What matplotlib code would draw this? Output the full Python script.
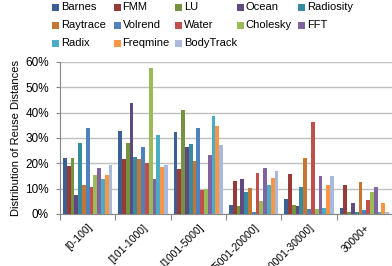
import numpy as np
import matplotlib
matplotlib.use('Agg')
import matplotlib.pyplot as plt
from matplotlib.patches import Rectangle

plt.rcParams['font.family'] = ['Liberation Sans Narrow', 'Liberation Sans', 'DejaVu Sans']

# categories (reuse distance buckets)
buckets = ['[0-100]', '[101-1000]', '[1001-5000]', '[5001-20000]', '[20001-30000]', '30000+']

# benchmark series, percent per bucket
barnes    = [22.2, 32.8, 32.4, 3.6, 5.9, 2.4]
fmm       = [19.0, 21.7, 17.8, 13.0, 15.8, 11.4]
lu        = [22.2, 28.0, 41.0, 3.2, 3.6, 0.8]
ocean     = [7.5, 43.8, 26.4, 13.8, 3.2, 4.3]
radiosity = [28.0, 22.5, 27.6, 8.7, 10.7, 0.8]
raytrace  = [11.4, 21.7, 20.9, 10.3, 22.1, 12.6]
volrend   = [34.0, 26.4, 34.0, 0.8, 2.0, 1.6]
water     = [10.7, 20.1, 9.5, 16.2, 36.3, 5.5]
cholesky  = [15.4, 57.6, 9.9, 5.1, 2.0, 8.7]
fft       = [18.2, 13.8, 23.3, 18.2, 15.0, 10.7]
radix     = [13.8, 31.2, 38.7, 11.4, 2.4, 0.8]
freqmine  = [15.4, 18.6, 34.7, 14.2, 11.4, 4.3]
bodytrack = [19.5, 19.5, 27.2, 17.0, 15.0, 0.8]

names = ['Barnes', 'FMM', 'LU', 'Ocean', 'Radiosity', 'Raytrace', 'Volrend',
         'Water', 'Cholesky', 'FFT', 'Radix', 'Freqmine', 'BodyTrack']
series = [barnes, fmm, lu, ocean, radiosity, raytrace, volrend,
          water, cholesky, fft, radix, freqmine, bodytrack]
colors = ['#3A6095', '#963B38', '#77923F', '#5E4A7E', '#378BA0', '#C47632',
          '#4F81BD', '#C0504D', '#9BBB59', '#8064A2', '#4BACC6', '#F79646', '#A9B9DC']

W, H = 392, 266
fig = plt.figure(figsize=(W / 100, H / 100), dpi=100)
ax = fig.add_axes([60/W, 52/H, 332/W, 152/H])

n = len(series)
bw = 0.893 / n
x = np.arange(len(buckets))
for i, (vals, c) in enumerate(zip(series, colors)):
    ax.bar(x + 0.5 - 0.4465 + bw * (i + 0.5), vals, width=bw, color=c, linewidth=0, zorder=3)

ax.set_ylim(0, 60)
ax.set_yticks(range(0, 61, 10))
ax.set_yticklabels(['%d%%' % v for v in range(0, 61, 10)], fontsize=8.5)
ax.yaxis.grid(True, color='#C0C0C0', linewidth=1, zorder=0)

ax.set_xlim(0, 5.93)
ax.set_xticks(np.arange(0, 7), minor=False)
ax.set_xticklabels([])
ax.set_xticks(x + 0.5, minor=True)
ax.set_xticklabels(buckets, minor=True, rotation=45, ha='right', va='top',
                   rotation_mode='anchor', fontsize=7.5)
ax.tick_params(axis='x', which='minor', length=0, pad=6)
ax.tick_params(axis='x', which='major', length=4, color='#888888')
ax.tick_params(axis='y', length=3, color='#888888', pad=5)

for s in ['top', 'right']:
    ax.spines[s].set_visible(False)
ax.spines['left'].set_color('#888888')
ax.spines['bottom'].set_color('#888888')

ax.set_ylabel('Distribution of Reuse Distances', fontsize=8, labelpad=3)

# legend, row by row, 5 per row
for k, (name, c) in enumerate(zip(names, colors)):
    row, col = divmod(k, 5)
    lx = 52 + 61.5 * col
    ly = 7 + 18 * row
    fig.patches.append(Rectangle((lx / W, 1 - (ly + 3.5) / H), 7 / W, 7 / H,
                                 transform=fig.transFigure, facecolor=c,
                                 edgecolor='none', figure=fig))
    fig.text((lx + 9) / W, 1 - ly / H, name, fontsize=8, va='center', ha='left')

fig.savefig('out.png', dpi=100)
